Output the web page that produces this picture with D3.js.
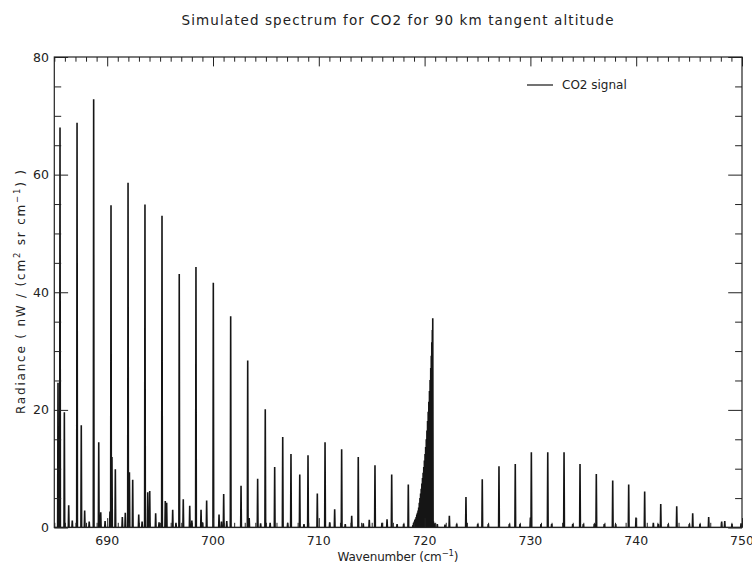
<!DOCTYPE html>
<html>
<head>
<meta charset="utf-8">
<script src="https://cdn.jsdelivr.net/npm/d3@7"></script>
<style>
  html, body { margin: 0; padding: 0; background: #fff; }
  svg { display: block; }
  text { font-family: "DejaVu Sans", "Liberation Sans", sans-serif; fill: #222; }
</style>
</head>
<body>
<svg id="chart" width="752" height="563"></svg>
<script>
// ---------------- data ----------------
const titleText = "Simulated spectrum for CO2 for 90 km tangent altitude";
const xLabelMain = "Wavenumber (cm";
const yLabelMain = "Radiance ( nW / (cm";
const legendLabel = "CO2 signal";

const xDomain = [685, 750];
const yDomain = [0, 80];
const xTickValues = [690, 700, 710, 720, 730, 740, 750];
const yTickValues = [0, 20, 40, 60, 80];

// strong lines on the left (fundamental band R-branch)
const strongPos = [685.54, 687.15, 688.72, 690.36, 691.97, 693.57, 695.18, 696.81, 698.39, 700.03,
                   701.67, 703.28, 704.94, 706.59, 708.20, 709.86, 711.50, 713.11, 714.77, 716.45];
const strongVal = [68.0, 68.8, 72.8, 54.8, 58.6, 54.9, 53.0, 43.1, 44.3, 41.6,
                   35.9, 28.4, 20.1, 15.4, 9.0, 5.8, 3.1, 2.0, 1.3, 1.4];

// hot-band series on the left
const hotPos = [685.35, 685.95, 687.55, 689.20, 690.45, 690.77, 692.10, 692.41, 693.83, 694.02,
                695.49, 695.62, 697.19, 698.87];
const hotVal = [24.6, 19.6, 17.4, 14.5, 12.0, 9.9, 9.4, 8.1, 6.0, 6.2,
                4.5, 4.2, 4.8, 3.0];

// P-branch of the 720 band
const pBranchPos = [697.80, 699.40, 701.01, 702.65, 704.22, 705.83, 707.37, 708.98, 710.59, 712.16,
                    713.73, 715.31, 716.89, 718.46];
const pBranchVal = [3.7, 4.6, 5.7, 7.1, 8.3, 10.3, 12.5, 12.3, 14.5, 13.3,
                    12.0, 10.6, 9.0, 7.3];

// Q-branch of the 720 band
const qBranchPos = [718.90, 718.96, 719.02, 719.08, 719.14, 719.20, 719.26, 719.32, 719.38, 719.44,
                    719.50, 719.56, 719.62, 719.68, 719.74, 719.80, 719.86, 719.92, 719.98, 720.04,
                    720.10, 720.16, 720.22, 720.28, 720.34, 720.40, 720.46, 720.52, 720.58, 720.63,
                    720.68, 720.73, 720.77];
const qBranchVal = [0.4, 0.8, 1.0, 1.3, 1.5, 1.8, 2.2, 2.5, 2.9, 3.4,
                    4.2, 5.0, 5.8, 6.6, 7.5, 8.4, 9.3, 10.3, 11.4, 12.5,
                    13.7, 15.0, 16.5, 18.1, 19.7, 21.4, 23.2, 25.1, 27.1, 29.2,
                    31.5, 33.6, 35.6];

// R-branch of the 720 band
const rBranchPos = [722.34, 723.91, 725.45, 727.03, 728.57, 730.09, 731.64, 733.18, 734.69, 736.23,
                    737.78, 739.29, 740.80, 742.32, 743.83, 745.34, 746.85, 748.37, 749.91];
const rBranchVal = [2.0, 5.2, 8.2, 10.4, 10.8, 12.8, 12.8, 12.8, 10.8, 9.1,
                    8.0, 7.3, 6.1, 4.0, 3.6, 2.4, 1.8, 1.1, 0.7];

// weak lines near the baseline
const weakPos = [686.36, 686.70, 687.87, 688.30, 689.39, 689.80, 690.26, 691.43, 691.71, 692.98,
                 693.30, 694.58, 694.90, 696.19, 696.50, 698.00, 699.00, 700.57, 700.80, 701.30,
                 703.42, 704.50, 705.40, 707.06, 708.60, 711.03, 712.50, 714.20, 715.97, 717.40,
                 718.02, 720.84, 720.95, 721.20, 721.93, 723.03, 725.02, 726.02, 728.01, 729.02,
                 730.00, 731.00, 732.01, 734.00, 735.00, 736.04, 736.98, 738.06, 739.98, 741.62,
                 742.09, 743.03, 745.02, 746.03, 748.08, 749.05];
const weakVal = [3.8, 1.2, 2.9, 1.0, 2.6, 1.1, 2.7, 1.8, 2.5, 2.2,
                 1.0, 2.4, 0.9, 3.0, 0.8, 1.2, 0.9, 2.2, 1.0, 1.1,
                 1.6, 0.7, 0.8, 0.8, 0.6, 0.9, 0.6, 0.7, 0.8, 0.6,
                 0.6, 1.0, 0.7, 0.6, 0.5, 0.6, 0.6, 0.6, 0.6, 0.6,
                 1.7, 0.6, 0.6, 0.6, 0.6, 0.6, 0.6, 0.6, 1.7, 0.8,
                 0.6, 0.6, 0.6, 0.6, 1.0, 0.6];

// ---------------- drawing ----------------
const svg = d3.select("#chart");
const plot = { left: 54.3, right: 742, top: 57, bottom: 527.5 };

const x = d3.scaleLinear().domain(xDomain).range([plot.left, plot.right]);
const y = d3.scaleLinear().domain(yDomain).range([plot.bottom, plot.top]);

// collect every line of the spectrum
const lines = [].concat(
  d3.zip(strongPos, strongVal),
  d3.zip(hotPos, hotVal),
  d3.zip(pBranchPos, pBranchVal),
  d3.zip(qBranchPos, qBranchVal),
  d3.zip(rBranchPos, rBranchVal),
  d3.zip(weakPos, weakVal)
).sort((a, b) => a[0] - b[0]);

// spectrum as a path: baseline -> peak -> baseline for each line
const halfWidth = 0.035;
const pts = [[xDomain[0], 0]];
lines.forEach(([p, v]) => {
  pts.push([p - halfWidth, 0], [p, v], [p + halfWidth, 0]);
});
pts.push([xDomain[1], 0]);

svg.append("defs").append("clipPath").attr("id", "clip")
  .append("rect")
  .attr("x", plot.left).attr("y", plot.top - 1)
  .attr("width", plot.right - plot.left).attr("height", plot.bottom - plot.top + 1);

const lineGen = d3.line().x(d => x(d[0])).y(d => y(d[1]));
svg.append("path")
  .attr("clip-path", "url(#clip)")
  .attr("d", lineGen(pts))
  .attr("fill", "none")
  .attr("stroke", "#151515")
  .attr("stroke-width", 1.6)
  .attr("stroke-linejoin", "miter");

// axes (IDL style: ticks point inward on all four sides)
const axisColor = "#222";
const xMajorLen = 9.4, xMinorLen = 4.7, yMajorLen = 13.8, yMinorLen = 6.9;
const xMinor = d3.range(xDomain[0], xDomain[1] + 0.001, 1).filter(v => !xTickValues.includes(v));
const yMinor = d3.range(yDomain[0], yDomain[1] + 0.001, 5).filter(v => !yTickValues.includes(v));

function styleAxis(g) {
  g.select(".domain").remove();
  g.selectAll(".tick line").attr("stroke", axisColor).attr("stroke-width", 1);
}

// bottom
svg.append("g").attr("transform", `translate(0,${plot.bottom})`)
  .call(d3.axisTop(x).tickValues(xTickValues).tickSize(xMajorLen).tickFormat(""))
  .call(styleAxis);
svg.append("g").attr("transform", `translate(0,${plot.bottom})`)
  .call(d3.axisTop(x).tickValues(xMinor).tickSize(xMinorLen).tickFormat(""))
  .call(styleAxis);
// top
svg.append("g").attr("transform", `translate(0,${plot.top})`)
  .call(d3.axisBottom(x).tickValues(xTickValues).tickSize(xMajorLen).tickFormat(""))
  .call(styleAxis);
svg.append("g").attr("transform", `translate(0,${plot.top})`)
  .call(d3.axisBottom(x).tickValues(xMinor).tickSize(xMinorLen).tickFormat(""))
  .call(styleAxis);
// left
svg.append("g").attr("transform", `translate(${plot.left},0)`)
  .call(d3.axisRight(y).tickValues(yTickValues).tickSize(yMajorLen).tickFormat(""))
  .call(styleAxis);
svg.append("g").attr("transform", `translate(${plot.left},0)`)
  .call(d3.axisRight(y).tickValues(yMinor).tickSize(yMinorLen).tickFormat(""))
  .call(styleAxis);
// right
svg.append("g").attr("transform", `translate(${plot.right},0)`)
  .call(d3.axisLeft(y).tickValues(yTickValues).tickSize(yMajorLen).tickFormat(""))
  .call(styleAxis);
svg.append("g").attr("transform", `translate(${plot.right},0)`)
  .call(d3.axisLeft(y).tickValues(yMinor).tickSize(yMinorLen).tickFormat(""))
  .call(styleAxis);

// frame
svg.append("rect")
  .attr("x", plot.left).attr("y", plot.top)
  .attr("width", plot.right - plot.left).attr("height", plot.bottom - plot.top)
  .attr("fill", "none").attr("stroke", axisColor).attr("stroke-width", 1.2);

// tick labels
svg.append("g").selectAll("text").data(xTickValues).join("text")
  .attr("x", d => x(d)).attr("y", 545)
  .attr("text-anchor", "middle").attr("font-size", 12.5)
  .text(d => d);
svg.append("g").selectAll("text").data(yTickValues).join("text")
  .attr("x", 49).attr("y", d => y(d) + 4.5)
  .attr("text-anchor", "end").attr("font-size", 12.5)
  .text(d => d);

// title
svg.append("text")
  .attr("x", 397.5).attr("y", 25)
  .attr("text-anchor", "middle").attr("font-size", 13.5)
  .attr("textLength", 432).attr("lengthAdjust", "spacing")
  .text(titleText);

// x label
const xl = svg.append("text")
  .attr("x", 398).attr("y", 561)
  .attr("text-anchor", "middle").attr("font-size", 12)
  .attr("textLength", 121).attr("lengthAdjust", "spacing");
xl.append("tspan").text(xLabelMain);
xl.append("tspan").attr("font-size", 8.5).attr("dy", -5).text("−1");
xl.append("tspan").attr("dy", 5).text(")");

// y label
const yl = svg.append("text")
  .attr("transform", `translate(25,292) rotate(-90)`)
  .attr("text-anchor", "middle").attr("font-size", 12)
  .attr("textLength", 244).attr("lengthAdjust", "spacing");
yl.append("tspan").text(yLabelMain);
yl.append("tspan").attr("font-size", 8.5).attr("dy", -5).text("2");
yl.append("tspan").attr("dy", 5).text(" sr cm");
yl.append("tspan").attr("font-size", 8.5).attr("dy", -5).text("−1");
yl.append("tspan").attr("dy", 5).text(") )");

// legend
svg.append("line")
  .attr("x1", 527).attr("x2", 553).attr("y1", 85).attr("y2", 85)
  .attr("stroke", "#151515").attr("stroke-width", 1.2);
svg.append("text")
  .attr("x", 562).attr("y", 89)
  .attr("font-size", 12)
  .text(legendLabel);
</script>
</body>
</html>
